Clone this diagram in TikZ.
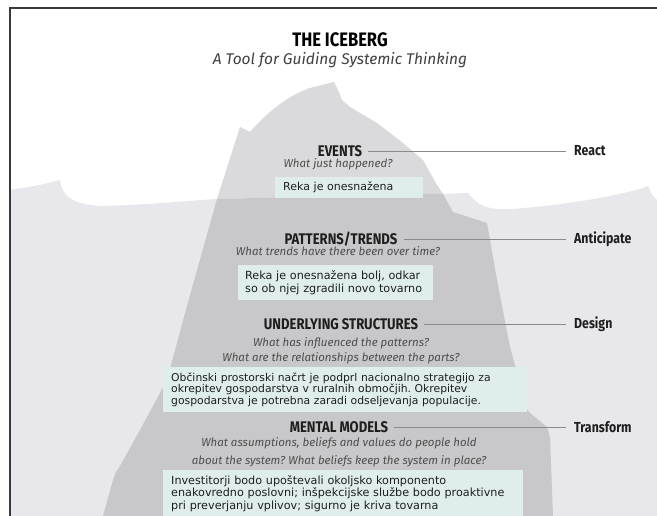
\documentclass[tikz,border=0pt]{standalone}
\usepackage{fontspec}
\setmainfont{Fira Sans}
\newfontfamily\hfont[FakeStretch=0.85]{Fira Sans}
\newfontfamily\qfont{Fira Sans}
\newfontfamily\bxfont{DejaVu Sans}
\frenchspacing
\hyphenpenalty=10000
\exhyphenpenalty=10000
\definecolor{waterc}{HTML}{E8E7EB}
\definecolor{topc}{HTML}{DADADC}
\definecolor{deepc}{HTML}{C8C8CB}
\definecolor{boxc}{HTML}{DFEEED}
\definecolor{headc}{HTML}{1E1E1E}
\definecolor{qc}{HTML}{4E4E4E}
\definecolor{linec}{HTML}{8A8A8A}
\definecolor{framec}{HTML}{3A3A3A}
\tikzset{
  head/.style={font=\hfont\bfseries\fontsize{15.4}{17}\selectfont, text=headc, inner sep=0pt},
  lab/.style={font=\hfont\bfseries\fontsize{14.5}{17}\selectfont, text=headc, inner sep=0pt, anchor=west},
  ques/.style={font=\qfont\itshape\fontsize{11.5}{15}\selectfont, text=qc, inner sep=0pt, align=center},
  infobox/.style={fill=boxc, text=headc, align=left, inner xsep=8pt, inner ysep=0pt, anchor=north west},
  conn/.style={draw=linec, line width=0.9pt}
}
\begin{document}
\begin{tikzpicture}[x=1pt,y=-1pt]
\useasboundingbox (0,0) rectangle (657,516);
\fill[white] (0,0) rectangle (657,516);
% water
\fill[waterc] (10,190) -- (40,185) -- (60,180)
  .. controls (62,195) and (70,204) .. (100,206)
  .. controls (150,205) and (195,200) .. (217,199)
  -- (443,194) -- (468,193)
  .. controls (478,206) and (488,210) .. (510,209)
  .. controls (560,206) and (610,197) .. (640,189)
  -- (648,186) .. controls (651,192) and (653,198) .. (657,200)
  -- (657,516) -- (10,516) -- cycle;
% iceberg above water
\fill[topc] (217,199) -- (240,127) -- (250,132)
  .. controls (262,118) and (285,96) .. (310,88)
  -- (334,82) -- (338,90) -- (342,100) -- (350,107)
  -- (377,123) -- (403,143) -- (423,160) -- (437,185) -- (443,194)
  .. controls (400,193) and (300,197) .. (217,199) -- cycle;
% iceberg below water
\fill[deepc] (217,199) -- (185,313) -- (167,380) -- (140,430) -- (120,466)
  -- (116,472) -- (113,480) -- (103,516) -- (553,516) -- (550,437)
  -- (547,427) -- (530,413) -- (527,409) -- (510,347) -- (497,280)
  -- (487,223) -- (453,212) -- (443,194)
  .. controls (400,193) and (300,197) .. (217,199) -- cycle;
% frame
\draw[framec, line width=1.1pt] (657,8) -- (10,8) -- (10,516);
% title
\node[head, text=black, font=\hfont\bfseries\fontsize{19.5}{22}\selectfont] (title) at (340,40) {THE ICEBERG};
\node[ques, text=headc!85, font=\qfont\itshape\fontsize{15.5}{19}\selectfont] (sub) at (340,60) {A Tool for Guiding Systemic Thinking};
% events
\node[head] (ev) at (340,151) {EVENTS};
\node[lab] (react) at (574,151) {React};
\draw[conn] ([xshift=6pt]ev.east) -- ([xshift=-8pt]react.west);
\node[ques] (q1) at (338,164.5) {What just happened?};
\node[infobox, text width=132pt, minimum height=21pt, font=\bxfont\fontsize{11}{13}\selectfont] (b1) at (275,177) {Reka je onesnažena};
% patterns
\node[head] (pt) at (341,239) {PATTERNS/TRENDS};
\node[lab] (anti) at (574,239) {Anticipate};
\draw[conn] ([xshift=6pt]pt.east) -- ([xshift=-8pt]anti.west);
\node[ques] (q2) at (338,251.5) {What trends have there been over time?};
\node[infobox, inner xsep=7pt, text width=181pt, minimum height=35pt, font=\bxfont\fontsize{11.2}{13.5}\selectfont] (b2) at (238,265) {Reka je onesnažena bolj, odkar\\so ob njej zgradili novo tovarno};
% structures
\node[head] (us) at (341,324) {UNDERLYING STRUCTURES};
\node[lab] (design) at (574,324) {Design};
\draw[conn] ([xshift=6pt]us.east) -- ([xshift=-8pt]design.west);
\node[ques] (q3) at (341,350.5) {What has influenced the patterns?\\What are the relationships between the parts?};
\node[infobox, text width=348pt, minimum height=45pt, font=\bxfont\fontsize{10.8}{11.8}\selectfont] (b3) at (163,367) {Občinski prostorski načrt je podprl nacionalno strategijo za\\okrepitev gospodarstva v ruralnih območjih. Okrepitev\\gospodarstva je potrebna zaradi odseljevanja populacije.};
% mental models
\node[head] (mm) at (339,427) {MENTAL MODELS};
\node[lab] (trans) at (574,427) {Transform};
\draw[conn] ([xshift=6pt]mm.east) -- ([xshift=-8pt]trans.west);
\node[ques, font=\qfont\itshape\fontsize{11.5}{18}\selectfont] (q4) at (339,452) {What assumptions, beliefs and values do people hold\\about the system? What beliefs keep the system in place?};
\node[infobox, text width=344pt, minimum height=46pt, font=\bxfont\fontsize{11.2}{12.5}\selectfont] (b4) at (163,470) {Investitorji bodo upoštevali okoljsko komponento\\enakovredno poslovni; inšpekcijske službe bodo proaktivne\\pri preverjanju vplivov; sigurno je kriva tovarna};
\end{tikzpicture}
\end{document}
